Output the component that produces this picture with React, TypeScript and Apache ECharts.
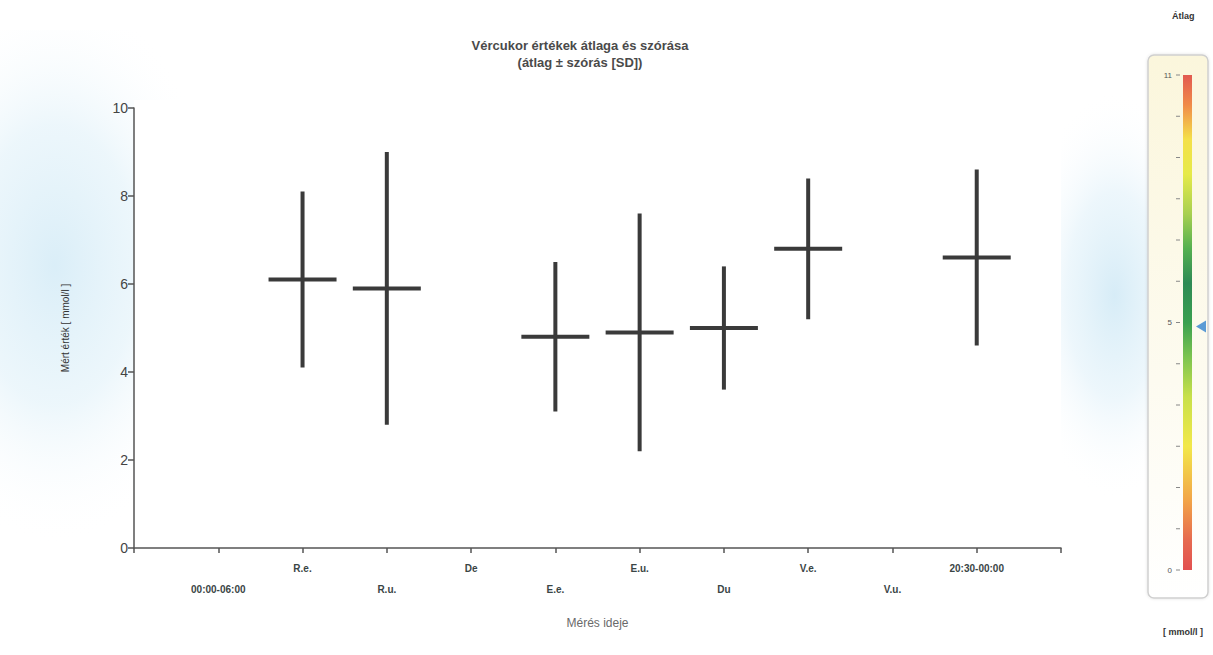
import React, { useEffect, useRef } from "react";
import * as echarts from "echarts";

const categories = ["00:00-06:00", "R.e.", "R.u.", "De", "E.e.", "E.u.", "Du", "V.e.", "V.u.", "20:30-00:00"];
// null = no measurement
const means: (number | null)[] = [null, 6.1, 5.9, null, 4.8, 4.9, 5.0, 6.8, null, 6.6];
const sds: (number | null)[] = [null, 2.0, 3.1, null, 1.7, 2.7, 1.4, 1.6, null, 2.0];
const yTicks = [0, 2, 4, 6, 8, 10];
const gaugeLabels = ["11", "5", "0"];
const gaugeValue = 5;

export default function App() {
  const ref = useRef<HTMLDivElement>(null);
  useEffect(() => {
    if (!ref.current) return;
    const chart = echarts.init(ref.current, null, { renderer: "svg" });

    const data = means
      .map((m, i) => (m === null ? null : [i + 1, m, sds[i] as number]))
      .filter((d) => d !== null);

    // gauge geometry
    const barTop = 75;
    const barBottom = 570;
    const barX = 1183;
    const nTicks = 13;
    const gaugeTicks: any[] = [];
    for (let k = 0; k < nTicks; k++) {
      const y = barTop + ((barBottom - barTop) * k) / (nTicks - 1);
      gaugeTicks.push({
        type: "line",
        shape: { x1: 1176, y1: y, x2: 1180, y2: y },
        style: { stroke: "#888", lineWidth: 1 },
        z: 5,
      });
    }
    const gaugeMax = 10;
    const valToY = (v: number) => barBottom - ((barBottom - barTop) * v) / gaugeMax;
    const labelYs = [barTop, valToY(5), barBottom];

    chart.setOption({
      animation: false,
      backgroundColor: "#ffffff",
      title: {
        text: "Vércukor értékek átlaga és szórása\n(átlag ± szórás [SD])",
        left: 575,
        top: 32,
        textAlign: "center",
        textStyle: {
          fontFamily: "Liberation Sans, Arial, sans-serif",
          fontSize: 13,
          fontWeight: "bold",
          color: "#4a4a4a",
          lineHeight: 17,
        },
      },
      graphic: [
        {
          type: "rect",
          z: -20,
          silent: true,
          shape: { x: -110, y: 30, width: 330, height: 560 },
          style: {
            fill: {
              type: "radial", x: 0.5, y: 0.42, r: 0.5,
              colorStops: [
                { offset: 0, color: "rgba(214,236,247,0.9)" },
                { offset: 0.5, color: "rgba(224,241,249,0.6)" },
                { offset: 1, color: "rgba(255,255,255,0)" },
              ],
            },
          },
        },
        {
          type: "rect",
          z: -20,
          silent: true,
          shape: { x: 1010, y: 90, width: 190, height: 410 },
          style: {
            fill: {
              type: "radial", x: 0.55, y: 0.5, r: 0.5,
              colorStops: [
                { offset: 0, color: "rgba(210,234,246,0.9)" },
                { offset: 0.5, color: "rgba(222,240,249,0.55)" },
                { offset: 1, color: "rgba(255,255,255,0)" },
              ],
            },
          },
        },
        {
          type: "rect",
          z: -10,
          silent: true,
          shape: { x: 134, y: 100, width: 927, height: 448 },
          style: { fill: "#ffffff" },
        },
        {
          type: "text",
          left: 1172,
          top: 11,
          style: { text: "Átlag", font: "bold 9px Liberation Sans, Arial, sans-serif", fill: "#333" },
        },
        {
          type: "text",
          left: 1163,
          top: 627,
          style: { text: "[ mmol/l ]", font: "bold 9px Liberation Sans, Arial, sans-serif", fill: "#333" },
        },
        {
          type: "rect",
          z: 1,
          shape: { x: 1148, y: 55, width: 60, height: 543, r: 6 },
          style: {
            stroke: "#cfcfcf",
            lineWidth: 1.5,
            fill: {
              type: "linear", x: 0, y: 0, x2: 0, y2: 1,
              colorStops: [
                { offset: 0, color: "#fbf6dc" },
                { offset: 0.6, color: "#fdfbf0" },
                { offset: 1, color: "#ffffff" },
              ],
            },
            shadowBlur: 3,
            shadowColor: "rgba(0,0,0,0.12)",
          },
        },
        {
          type: "rect",
          z: 3,
          shape: { x: barX, y: barTop, width: 9, height: barBottom - barTop },
          style: {
            fill: {
              type: "linear", x: 0, y: 0, x2: 0, y2: 1,
              colorStops: [
                { offset: 0, color: "#e25a50" },
                { offset: 0.06, color: "#f08a48" },
                { offset: 0.13, color: "#f4e04a" },
                { offset: 0.2, color: "#e6ea4a" },
                { offset: 0.28, color: "#a8d050" },
                { offset: 0.35, color: "#55b050" },
                { offset: 0.42, color: "#2e8a55" },
                { offset: 0.5, color: "#3aa050" },
                { offset: 0.57, color: "#7cc450" },
                { offset: 0.65, color: "#c8e04a" },
                { offset: 0.75, color: "#f2e84a" },
                { offset: 0.86, color: "#f2a448" },
                { offset: 0.94, color: "#e66a50" },
                { offset: 1, color: "#e25050" },
              ],
            },
          },
        },
        ...gaugeTicks,
        ...gaugeLabels.map((t, k) => ({
          type: "text",
          z: 5,
          x: 1172,
          y: labelYs[k],
          style: {
            text: t,
            font: "8px Liberation Sans, Arial, sans-serif",
            fill: "#555",
            align: "right",
            verticalAlign: "middle",
          },
        })),
        {
          type: "polygon",
          z: 6,
          shape: {
            points: [
              [1196, valToY(gaugeValue) + 4],
              [1206, valToY(gaugeValue) - 2],
              [1206, valToY(gaugeValue) + 10],
            ],
          },
          style: { fill: "#5b9bd5" },
        },
      ],
      grid: { left: 134, right: 152, top: 108, bottom: 107 },
      xAxis: {
        type: "value",
        min: 0,
        max: categories.length + 1,
        interval: 1,
        name: "Mérés ideje",
        nameLocation: "middle",
        nameGap: 69,
        nameTextStyle: { fontFamily: "Liberation Sans, Arial, sans-serif", fontSize: 12, color: "#6a6a6a" },
        splitLine: { show: false },
        axisLine: { show: true, lineStyle: { color: "#555", width: 1.5 } },
        axisTick: { show: true, length: 5, lineStyle: { color: "#555", width: 1.5 } },
        axisLabel: {
          margin: 10,
          fontFamily: "Liberation Sans, Arial, sans-serif",
          fontSize: 10,
          fontWeight: "bold",
          color: "#3a4545",
          lineHeight: 21,
          formatter: (v: number) => {
            const i = Math.round(v) - 1;
            if (i < 0 || i >= categories.length) return "";
            return i % 2 === 0 ? "\n" + categories[i] : categories[i];
          },
        },
      },
      yAxis: {
        type: "value",
        min: 0,
        max: 10,
        interval: 2,
        name: "Mért érték [ mmol/l ]",
        nameLocation: "middle",
        nameGap: 64,
        nameTextStyle: { fontFamily: "Liberation Sans, Arial, sans-serif", fontSize: 10, color: "#333" },
        splitLine: { show: false },
        axisLine: { show: true, lineStyle: { color: "#555", width: 1.5 } },
        axisTick: { show: true, length: 6, lineStyle: { color: "#555", width: 1.5 } },
        axisLabel: {
          margin: 6,
          fontFamily: "Liberation Sans, Arial, sans-serif",
          fontSize: 14,
          color: "#444",
          formatter: (v: number) => (yTicks.includes(v) ? String(v) : ""),
        },
      },
      series: [
        {
          type: "custom",
          data,
          renderItem: (params: any, api: any) => {
            const x = api.value(0);
            const m = api.value(1);
            const s = api.value(2);
            const c = api.coord([x, m]);
            const top = api.coord([x, m + s]);
            const bot = api.coord([x, m - s]);
            const hw = 34;
            const st = { stroke: "#3a3a3a", lineWidth: 4 };
            return {
              type: "group",
              children: [
                { type: "line", shape: { x1: top[0], y1: top[1], x2: bot[0], y2: bot[1] }, style: st },
                { type: "line", shape: { x1: c[0] - hw, y1: c[1], x2: c[0] + hw, y2: c[1] }, style: st },
              ],
            };
          },
        },
      ],
    });
    return () => chart.dispose();
  }, []);
  return <div ref={ref} style={{ position: "fixed", left: 0, top: 0, width: 1213, height: 655 }} />;
}
